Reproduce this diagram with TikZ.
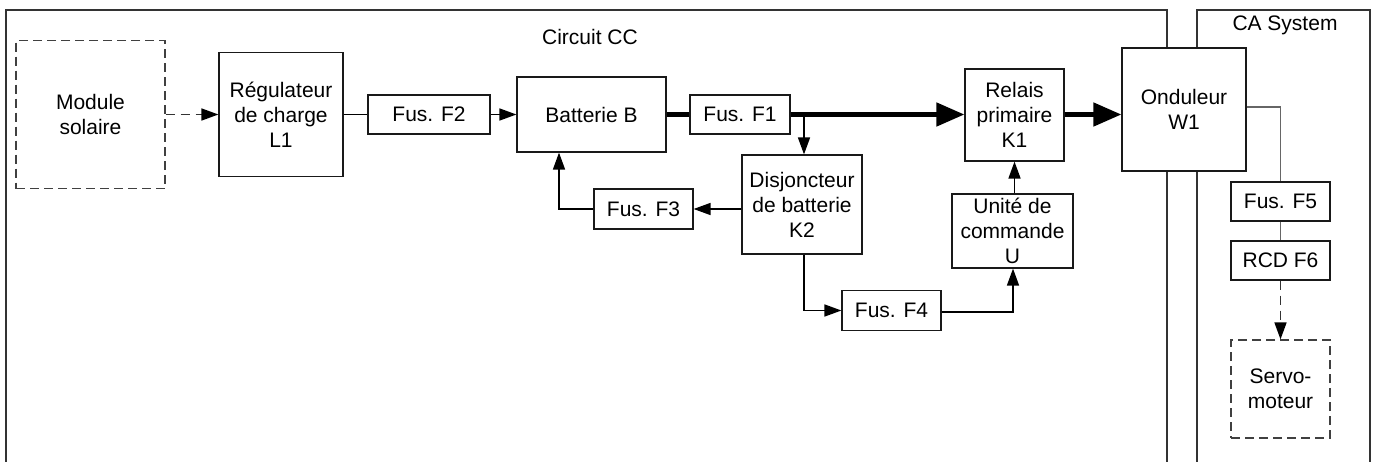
\documentclass[tikz,border=0pt]{standalone}
\usepackage{fontspec}
\setmainfont{Liberation Sans}
\usetikzlibrary{arrows.meta}
\begin{document}
\begin{tikzpicture}[x=1pt,y=-1pt,
  box/.style={draw=black!90, fill=white, line width=1.2pt, inner sep=0pt, align=center,
    font=\fontsize{21}{25}\selectfont, text=black},
  dbox/.style={box, dash pattern=on 9pt off 5pt, draw=black!75},
  frame/.style={draw=black!80, line width=1.3pt},
  lbl/.style={inner sep=0pt, font=\fontsize{21}{25}\selectfont},
  cline/.style={line width=1.6pt, draw=black},
  conn/.style={cline, -{Triangle[length=17pt,width=12pt]}},
  thickline/.style={line width=4.7pt, draw=black},
  thickconn/.style={thickline, -{Triangle[length=28pt,width=23pt]}},
  grayline/.style={line width=1.2pt, draw=black!60},
  dconn/.style={line width=1.6pt, draw=black!80, dash pattern=on 9pt off 6pt,
    -{Triangle[length=17pt,width=12pt,color=black]}},
]
\useasboundingbox (0,0) rectangle (1374,461);
% frames
\draw[frame] (6,470) -- (6,10) -- (1167,10) -- (1167,470);
\draw[frame] (1197,470) -- (1197,10) -- (1370,10) -- (1370,470);
\node[lbl] (cc) at (590,37) {Circuit CC};
\node[lbl] (ca) at (1285,25) {CA System};
% nodes
\node[dbox, minimum width=149pt, minimum height=148pt] (mod) at (90.5,114.5) {Module\\solaire};
\node[box, minimum width=124pt, minimum height=124pt] (reg) at (281,114.5) {Régulateur\\de charge\\L1};
\node[box, minimum width=122pt, minimum height=39pt] (f2) at (429,114.5) {Fus. F2};
\node[box, minimum width=149pt, minimum height=75pt] (bat) at (591.5,114.5) {Batterie B};
\node[box, minimum width=100pt, minimum height=39pt] (f1) at (740,114.5) {Fus. F1};
\node[box, minimum width=99pt, minimum height=92pt] (rel) at (1014.5,115) {Relais\\primaire\\K1};
\node[box, minimum width=124pt, minimum height=123pt] (ond) at (1184,109.5) {Onduleur\\W1};
\node[box, minimum width=120pt, minimum height=99pt] (dis) at (802,204.5) {Disjoncteur\\de batterie\\K2};
\node[box, minimum width=99pt, minimum height=40pt] (f3) at (643.5,209) {Fus. F3};
\node[box, minimum width=99pt, minimum height=40pt] (f4) at (891.5,310.5) {Fus. F4};
\node[box, minimum width=121pt, minimum height=74pt] (uni) at (1012.5,231) {Unité de\\commande\\U};
\node[box, minimum width=99pt, minimum height=39pt] (f5) at (1280.5,201.5) {Fus. F5};
\node[box, minimum width=99pt, minimum height=39pt] (f6) at (1280.5,260.5) {RCD F6};
\node[dbox, minimum width=99pt, minimum height=98pt] (servo) at (1280.5,389) {Servo-\\moteur};
% connectors
\draw[dconn] (mod.east) -- (reg.west);
\draw[cline] (reg.east) -- (f2.west);
\draw[conn] (f2.east) -- (bat.west);
\draw[thickline] (bat.east) -- (f1.west);
\draw[thickconn] (f1.east) -- (rel.west |- f1.east);
\draw[thickconn] (rel.east |- f1.east) -- (ond.west |- f1.east);
\coordinate (j) at (804,114.5);
\draw[conn] (j) -- (j |- dis.north);
\draw[conn] (dis.west |- f3.east) -- (f3.east);
\draw[conn] (f3.west) -| ([xshift=-32.5pt]bat.south);
\draw[conn] ([xshift=2pt]dis.south) |- (f4.west);
\draw[conn] ([yshift=-1.5pt]f4.east) -| ([xshift=0.5pt]uni.south);
\draw[conn] (uni.north -| rel.south) -- (rel.south);
\draw[grayline] ([yshift=2.5pt]ond.east) -| (f5.north);
\draw[grayline] (f5.south) -- (f6.north);
\draw[dconn] (f6.south) -- (servo.north);
\end{tikzpicture}
\end{document}
